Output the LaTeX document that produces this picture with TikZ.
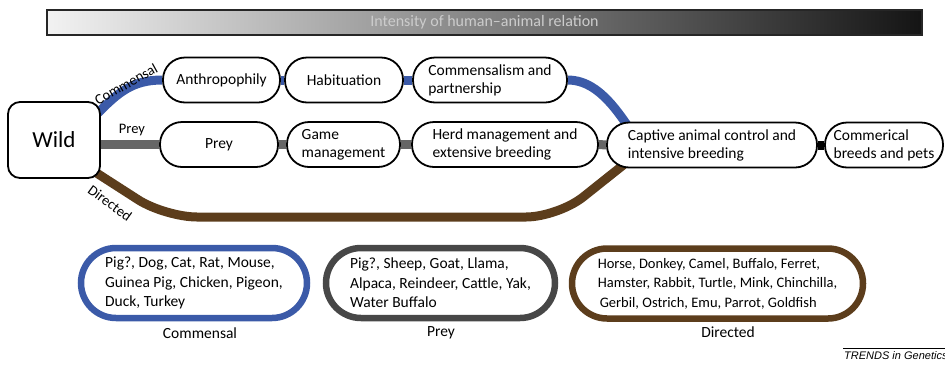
\documentclass[tikz,border=0pt]{standalone}
\usepackage{fontspec}
\setmainfont{Carlito}
\newfontfamily\trendsfont{Liberation Sans}
\usetikzlibrary{backgrounds}

\definecolor{comblue}{HTML}{3B5AA8}
\definecolor{preygray}{HTML}{666666}
\definecolor{boxgray}{HTML}{474747}
\definecolor{dirbrown}{HTML}{5C3D1C}

\begin{document}
\begin{tikzpicture}[x=1pt,y=-1pt,
  stage/.style={draw=black, line width=1.8pt, fill=white, rounded corners=22pt,
    minimum height=45pt, inner sep=0pt, align=left,
    font=\fontsize{15.5}{18}\selectfont},
  wildbox/.style={draw=black, line width=1.8pt, fill=white, rounded corners=12pt,
    minimum width=92pt, minimum height=76pt, font=\fontsize{23}{26}\selectfont},
  groupbox/.style={draw=#1, line width=6.5pt, fill=white, rounded corners=35pt,
    minimum height=70pt, inner sep=0pt, align=left,
    font=\fontsize{15.5}{19.5}\selectfont},
  grouplabel/.style={font=\fontsize{15.5}{18}\selectfont},
  pathlabel/.style={font=\fontsize{14.5}{16}\selectfont, inner sep=0pt},
  route/.style={draw=#1, line width=9pt},
]
\useasboundingbox (0,0) rectangle (945,365);

% intensity bar
\node[draw=black!85, line width=1.4pt, left color=white!95!black, right color=black!92,
  minimum width=875pt, minimum height=25pt, inner sep=0pt,
  text=white!80!black, font=\fontsize{16}{18}\selectfont] (bar) at (484.5,22.5)
  {Intensity of human--animal relation};

% origin
\node[wildbox] (wild) at (54,140) {Wild};

% commensal pathway
\node[stage, minimum width=117pt] (anthro) at (221.5,80) {Anthropophily};
\node[stage, minimum width=118pt] (habit) at (344,80) {Habituation};
\node[stage, minimum width=154pt] (partner) at (490,80) {Commensalism and\\partnership};

% prey pathway
\node[stage, minimum width=118pt] (prey) at (219,144.5) {Prey};
\node[stage, minimum width=113pt] (game) at (343.5,144.5) {Game\\management};
\node[stage, minimum width=186pt] (herd) at (505,144.5) {Herd management and\\extensive breeding};

% shared end stages
\node[stage, minimum width=210pt] (captive) at (712,145) {Captive animal control and\\intensive breeding};
\node[stage, minimum width=118pt] (pets) at (884,145) {Commerical\\breeds and pets};

% route connectors
\begin{scope}[on background layer]
  \draw[route=comblue] ([shift={(-3,-27)}]wild.east) .. controls +(20,-20) and +(-30,0) .. (anthro.west);
  \draw[route=comblue] (anthro.east) -- (habit.west);
  \draw[route=comblue] (habit.east) -- (partner.west);
  \draw[route=comblue] (partner.east) .. controls +(28,0) and +(-16,-24) .. ([shift={(25,-14)}]captive.west);

  \draw[route=preygray] (prey.west -| wild.east) -- (prey.west);
  \draw[route=preygray] (prey.east) -- (game.west);
  \draw[route=preygray] (game.east) -- (herd.west);
  \draw[route=preygray] (herd.east) -- (captive.west);

  \draw[route=dirbrown, rounded corners=32pt] ([shift={(-6,-7)}]wild.south east)
     -- (165,217) -- (558,217) -- ([shift={(26,13)}]captive.west);

  \draw[route=black] (captive.east) -- (pets.west);
\end{scope}

% route labels
\node[pathlabel, rotate=29] (lcom) at (126,84) {Commensal};
\node[pathlabel] (lprey) at (132,130) {Prey};
\node[pathlabel, rotate=-36] (ldir) at (110,203) {Directed};

% species groups
\node[groupbox=comblue, minimum width=226pt] (gcom) at (194,283)
  {Pig?, Dog, Cat, Rat, Mouse,\\Guinea Pig, Chicken, Pigeon,\\Duck, Turkey};
\node[groupbox=boxgray, minimum width=229pt] (gprey) at (440.5,283)
  {Pig?, Sheep, Goat, Llama,\\Alpaca, Reindeer, Cattle, Yak,\\Water Buffalo};
\node[groupbox=dirbrown, minimum width=291pt, font=\fontsize{14.5}{19.5}\selectfont] (gdir) at (717.5,283.5)
  {Horse, Donkey, Camel, Buffalo, Ferret,\\Hamster, Rabbit, Turtle, Mink, Chinchilla,\\\hspace{2pt}Gerbil, Ostrich, Emu, Parrot, Goldfish};

\node[grouplabel] (tcom) at (200,333) {Commensal};
\node[grouplabel] (tprey) at (441,333) {Prey};
\node[grouplabel] (tdir) at (728,332) {Directed};

% journal mark
\node[anchor=west, inner sep=1pt, font=\trendsfont\itshape\fontsize{11}{13}\selectfont] (trends) at (843,356) {TRENDS in Genetics};
\draw[line width=0.6pt] ([yshift=2pt]trends.north west) -- ++(110,0);
\end{tikzpicture}
\end{document}
